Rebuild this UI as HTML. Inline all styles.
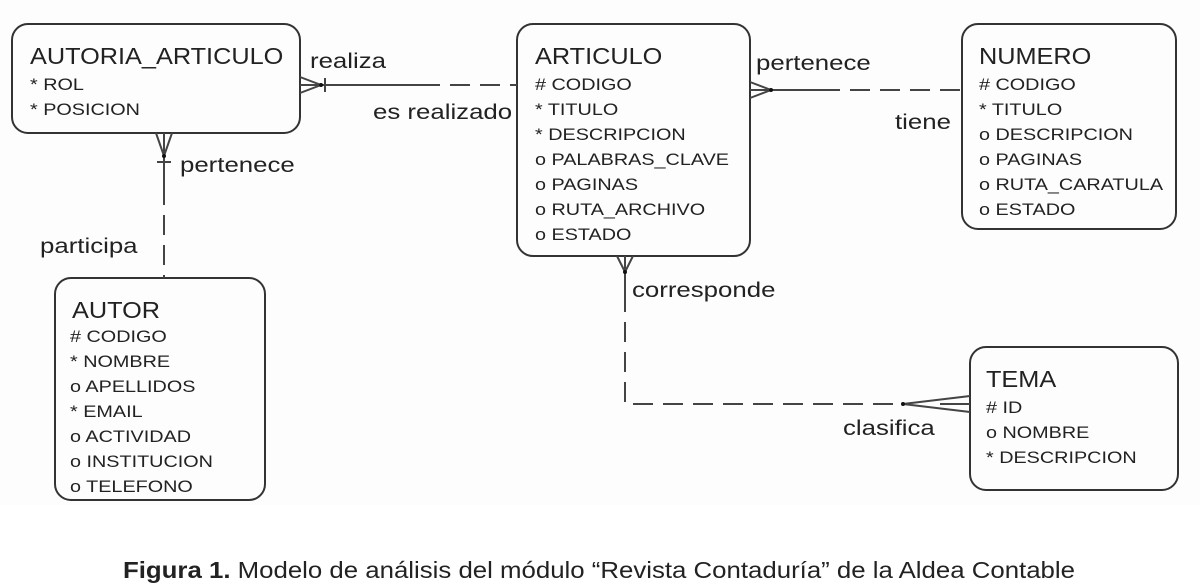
<!DOCTYPE html>
<html><head><meta charset="utf-8"><style>
html,body{margin:0;padding:0;background:#fff;}
svg{display:block;}
text{font-family:"Liberation Sans",Arial,sans-serif;fill:#222;transform-box:fill-box;transform-origin:left center;}
.t{font-size:23px;transform:scaleX(1.1);}
.a{font-size:16.5px;transform:scaleX(1.2);}
.l{font-size:21px;transform:scaleX(1.23);}
</style></head><body>
<svg width="1200" height="586" viewBox="0 0 1200 586">
<rect x="0" y="0" width="1200" height="505" fill="#fdfdfd"/>
<g fill="none" stroke="#333" stroke-width="2">
<rect x="12" y="24" width="288" height="109" rx="16"/>
<rect x="517" y="24" width="233" height="232" rx="16"/>
<rect x="962" y="24" width="214" height="205" rx="16"/>
<rect x="55" y="278" width="210" height="222" rx="16"/>
<rect x="970" y="347" width="208" height="143" rx="16"/>
</g>
<g stroke="#444" stroke-width="2" fill="none">
<path d="M300 77 L321 85 L300 93 M300 85 L420 85"/>
<path d="M325 78 L325 92"/>
<path d="M420 85 L517 85" stroke-dasharray="20 10"/>
<path d="M156 133 L164 156 L172 133 M164 133 L164 185"/>
<path d="M157 162 L171 162"/>
<path d="M164 185 L164 278" stroke-dasharray="20 10"/>
<path d="M750 82 L771 90 L750 98 M750 90 L820 90"/>
<path d="M820 90 L962 90" stroke-dasharray="20 10"/>
<path d="M617 256 L625 272 L633 256 M625 256 L625 292"/>
<path d="M625 292 L625 404 L903 404" stroke-dasharray="20 10"/>
<path d="M970 396 L903 404 L970 412 M940 404 L970 404"/>
</g>
<circle cx="321" cy="85" r="2" fill="#111"/>
<circle cx="164" cy="156" r="2" fill="#111"/>
<circle cx="771" cy="90" r="2" fill="#111"/>
<circle cx="625" cy="272" r="2" fill="#111"/>
<circle cx="903" cy="404" r="2" fill="#111"/>

<text class="t" x="30" y="64">AUTORIA_ARTICULO</text>
<text class="a" x="30" y="90">* ROL</text>
<text class="a" x="30" y="115">* POSICION</text>

<text class="t" x="535" y="64">ARTICULO</text>
<text class="a" x="535" y="90"># CODIGO</text>
<text class="a" x="535" y="115">* TITULO</text>
<text class="a" x="535" y="140">* DESCRIPCION</text>
<text class="a" x="535" y="165">o PALABRAS_CLAVE</text>
<text class="a" x="535" y="190">o PAGINAS</text>
<text class="a" x="535" y="215">o RUTA_ARCHIVO</text>
<text class="a" x="535" y="240">o ESTADO</text>

<text class="t" x="979" y="64">NUMERO</text>
<text class="a" x="979" y="90"># CODIGO</text>
<text class="a" x="979" y="115">* TITULO</text>
<text class="a" x="979" y="140">o DESCRIPCION</text>
<text class="a" x="979" y="165">o PAGINAS</text>
<text class="a" x="979" y="190">o RUTA_CARATULA</text>
<text class="a" x="979" y="215">o ESTADO</text>

<text class="t" x="72" y="318">AUTOR</text>
<text class="a" x="70" y="342"># CODIGO</text>
<text class="a" x="70" y="367">* NOMBRE</text>
<text class="a" x="70" y="392">o APELLIDOS</text>
<text class="a" x="70" y="417">* EMAIL</text>
<text class="a" x="70" y="442">o ACTIVIDAD</text>
<text class="a" x="70" y="467">o INSTITUCION</text>
<text class="a" x="70" y="492">o TELEFONO</text>

<text class="t" x="986" y="387">TEMA</text>
<text class="a" x="986" y="413"># ID</text>
<text class="a" x="986" y="438">o NOMBRE</text>
<text class="a" x="986" y="463">* DESCRIPCION</text>

<text class="l" x="310" y="68">realiza</text>
<text class="l" x="373" y="119">es realizado</text>
<text class="l" x="180" y="172">pertenece</text>
<text class="l" x="40" y="253">participa</text>
<text class="l" x="756" y="70">pertenece</text>
<text class="l" x="895" y="129">tiene</text>
<text class="l" x="632" y="297">corresponde</text>
<text class="l" x="843" y="435">clasifica</text>

<text x="123" y="578" font-size="23" textLength="952" lengthAdjust="spacingAndGlyphs"><tspan font-weight="bold">Figura 1.</tspan> Modelo de análisis del módulo “Revista Contaduría” de la Aldea Contable</text>
</svg>
</body></html>
